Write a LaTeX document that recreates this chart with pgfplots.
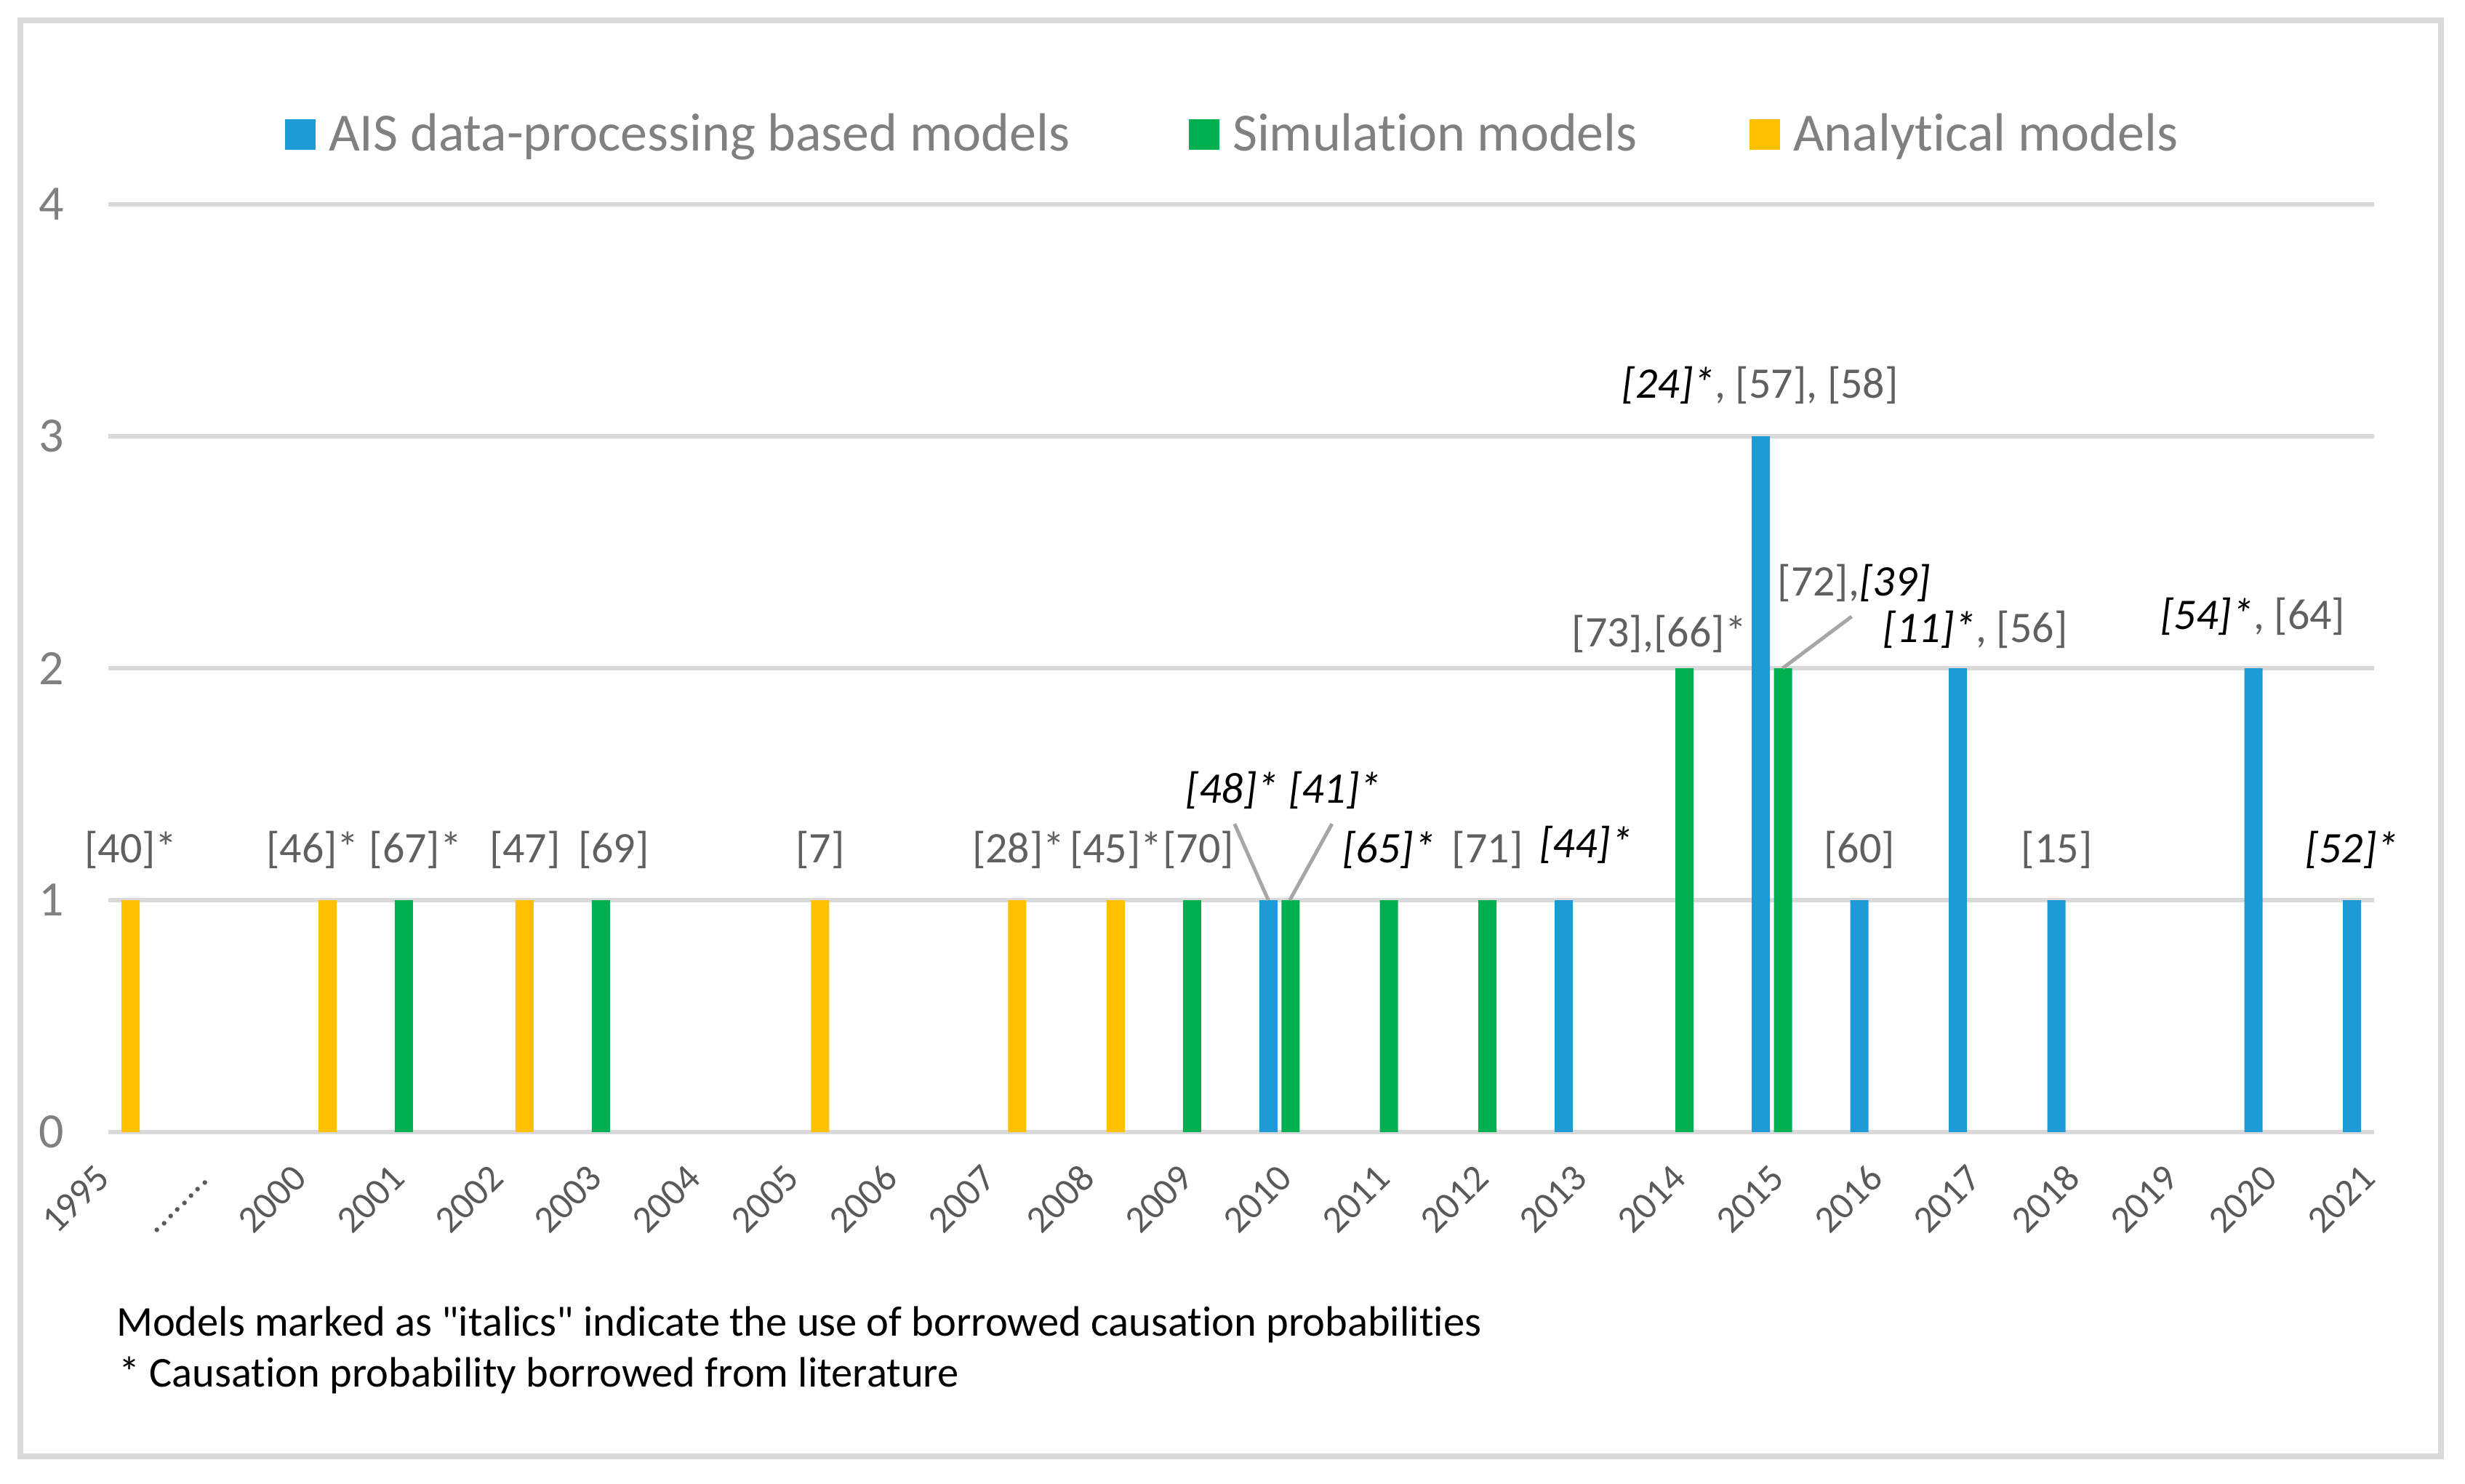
\documentclass[border=0pt]{standalone}
\usepackage{fontspec}
\setmainfont{Carlito}[Ligatures={NoCommon}]
\usepackage{pgfplots}
\pgfplotsset{compat=1.18}
\definecolor{aisblue}{HTML}{1E9BD7}
\definecolor{simgreen}{HTML}{00B050}
\definecolor{anayellow}{HTML}{FFC000}
\definecolor{gridgray}{HTML}{D9D9D9}
\definecolor{ygray}{HTML}{808080}
\definecolor{xgray}{HTML}{595959}
\definecolor{labgray}{HTML}{606060}
\definecolor{leadgray}{HTML}{A6A6A6}
\newcommand{\dotlab}{.\kern0pt.\kern0pt.\kern0pt.\kern0pt.\kern0pt.\kern0pt.\kern0pt.}
\newcommand{\lstrut}{\rule[-3.5pt]{0pt}{11.9pt}}
\begin{document}
\begin{tikzpicture}[
  lab/.style={anchor=base, inner sep=0pt, font=\fontsize{12}{14}\selectfont, text=labgray},
  ital/.style={anchor=base, inner sep=0pt, font=\fontsize{12}{14}\selectfont\itshape, text=black}]
\useasboundingbox (-29.8pt,-96.6pt) rectangle (648.2pt,311.4pt);
\draw[gridgray, line width=1.5pt] (-24.2pt,-89.2pt) rectangle (641.6pt,305.8pt);
\begin{axis}[
  at={(0pt,0pt)}, anchor=south west,
  scale only axis, width=623.2pt, height=255.2pt,
  xmin=0, xmax=23, ymin=0, ymax=4,
  ybar, bar width=5pt, enlargelimits=false, clip=false,
  axis line style={draw=none},
  major tick length=0pt, tick style={draw=none},
  ymajorgrids, grid style={gridgray, line width=1.33pt},
  ytick={0,1,2,3,4},
  xtick={0,1,2,3,4,5,6,7,8,9,10,11,12,13,14,15,16,17,18,19,20,21,22,23},
  xticklabels={1995,\dotlab,2000,2001,2002,2003,2004,2005,2006,2007,2008,2009,2010,2011,2012,2013,2014,2015,2016,2017,2018,2019,2020,2021},
  /pgf/number format/assume math mode=true,
  yticklabel style={font=\fontsize{13.6}{15}\selectfont, text=ygray, anchor=center, xshift=-15.6pt},
  xticklabel style={font=\fontsize{10.5}{12}\selectfont, text=xgray, anchor=base east, inner sep=0pt, xshift=1.0pt, yshift=-13.2pt, rotate=45},
  legend style={at={(0.078,1.052)}, anchor=south west, draw=none, fill=none, inner sep=0pt, outer sep=0pt,
    font=\fontsize{14.8}{17}\selectfont, text=ygray, legend columns=-1, nodes={inner sep=0pt}, column sep=0pt},
  legend image code/.code={\fill[#1,/tikz/.cd,draw=none] (0pt,-4.2pt) rectangle (8.4pt,4.2pt); \path (12pt,0pt);},
]
\addplot[fill=aisblue, draw=none, bar shift=-6.1pt] coordinates {(12,1) (15,1) (17,3) (18,1) (19,2) (20,1) (22,2) (23,1)};
\addlegendentry{\makebox[236.6pt][l]{\lstrut AIS data-processing based models}}
\addplot[fill=simgreen, draw=none, bar shift=0pt] coordinates {(3,1) (5,1) (11,1) (12,1) (13,1) (14,1) (16,2) (17,2)};
\addlegendentry{\makebox[142.2pt][l]{\lstrut Simulation models}}
\addplot[fill=anayellow, draw=none, bar shift=6.1pt] coordinates {(0,1) (2,1) (4,1) (7,1) (9,1) (10,1)};
\addlegendentry{\lstrut Analytical models}

\draw[leadgray, line width=1pt] (axis cs:11.432,1.329) -- (axis cs:11.775,1.0);
\draw[leadgray, line width=1pt] (axis cs:12.421,1.329) -- (axis cs:11.993,1.0);
\draw[leadgray, line width=1pt] (axis cs:17.697,2.223) -- (axis cs:16.996,2.0);

\node[lab] at (axis cs:0.229,1.163) {[40]*};
\node[lab] at (axis cs:2.074,1.163) {[46]*};
\node[lab] at (axis cs:3.118,1.163) {[67]*};
\node[lab] at (axis cs:4.229,1.163) {[47]};
\node[lab] at (axis cs:5.129,1.163) {[69]};
\node[lab] at (axis cs:7.225,1.163) {[7]};
\node[lab] at (axis cs:9.240,1.163) {[28]*};
\node[lab] at (axis cs:10.229,1.163) {[45]*};
\node[lab] at (axis cs:11.066,1.163) {[70]};
\node[ital] at (axis cs:11.930,1.417) {[48]* [41]*};
\node[ital] at (axis cs:13.0,1.163) {[65]*};
\node[lab] at (axis cs:14.0,1.163) {[71]};
\node[ital] at (axis cs:15.0,1.182) {[44]*};
\node[lab] at (axis cs:17.775,1.163) {[60]};
\node[lab] at (axis cs:19.779,1.163) {[15]};
\node[ital] at (axis cs:22.775,1.163) {[52]*};
\node[lab] at (axis cs:16.768,3.166) {\textcolor{black}{\itshape [24]*}, [57], [58]};
\node[lab] at (axis cs:17.720,2.313) {[72],\textcolor{black}{\itshape [39]}};
\node[lab] at (axis cs:15.742,2.094) {[73],[66]*};
\node[lab] at (axis cs:18.952,2.110) {\textcolor{black}{\itshape [11]*}, [56]};
\node[lab] at (axis cs:21.770,2.169) {\textcolor{black}{\itshape [54]*}, [64]};
\end{axis}
\node[anchor=base west, inner sep=0pt, font=\fontsize{11.7}{14}\selectfont] at (2pt,-56pt) {Models marked as \textquotedbl italics\textquotedbl{} indicate the use of borrowed causation probabilities};
\node[anchor=base west, inner sep=0pt, font=\fontsize{11.7}{14}\selectfont] at (2.6pt,-70pt) {* Causation probability borrowed from literature};
\end{tikzpicture}
\end{document}
